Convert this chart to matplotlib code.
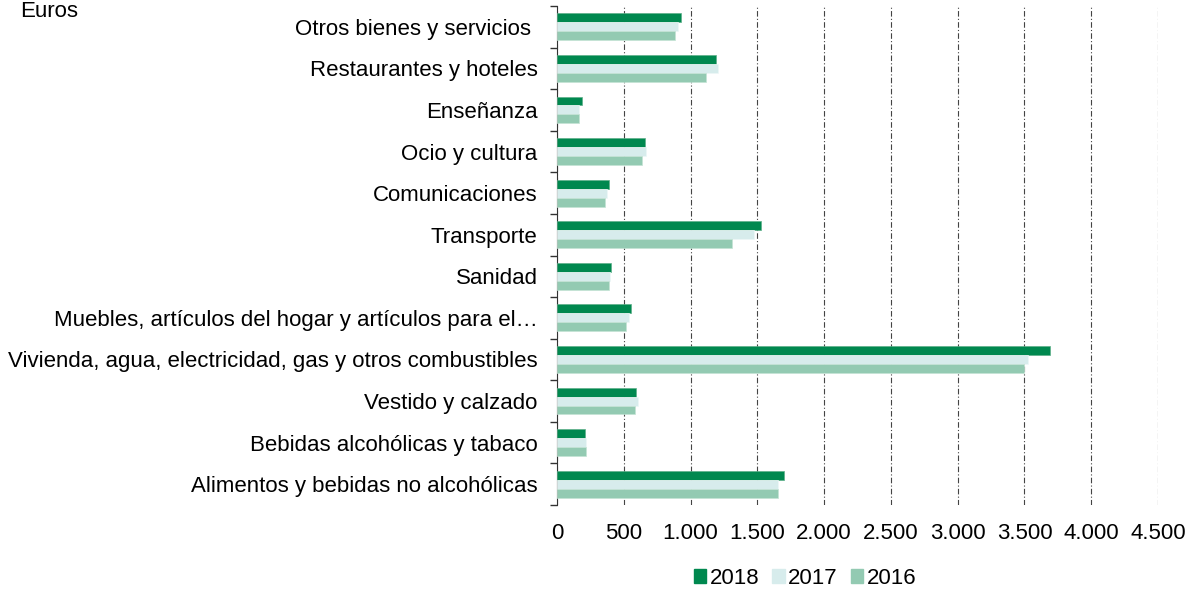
import numpy as np
import matplotlib.pyplot as plt
from matplotlib.patches import Patch

plt.rcParams['font.family'] = ['Liberation Sans', 'DejaVu Sans']

# categories, bottom to top
categorias = [
    'Alimentos y bebidas no alcohólicas',
    'Bebidas alcohólicas y tabaco',
    'Vestido y calzado',
    'Vivienda, agua, electricidad, gas y otros combustibles',
    'Muebles, artículos del hogar y artículos para el…',
    'Sanidad',
    'Transporte',
    'Comunicaciones',
    'Ocio y cultura',
    'Enseñanza',
    'Restaurantes y hoteles',
    'Otros bienes y servicios ',
]
v2018 = [1701, 210, 591, 3695, 553, 408, 1527, 390, 662, 186, 1187, 928]
v2017 = [1654, 216, 609, 3525, 538, 396, 1475, 374, 668, 167, 1206, 906]
v2016 = [1654, 216, 584, 3494, 516, 390, 1311, 356, 640, 161, 1116, 887]
xticks = [0, 500, 1000, 1500, 2000, 2500, 3000, 3500, 4000, 4500]
xlabels = ['0', '500', '1.000', '1.500', '2.000', '2.500', '3.000', '3.500', '4.000', '4.500']

c18, c17, c16 = '#00884f', '#d7ecec', '#93cab2'
fs = 16

fig = plt.figure(figsize=(11.89, 5.89), dpi=100)
ax = fig.add_axes([557 / 1189, 1 - 505 / 589, 601 / 1189, 499 / 589])

y = np.arange(len(categorias))
h = 0.215
ax.barh(y + h, v2018, height=h, color=c18, edgecolor='#5fb08a', linewidth=0.5, zorder=3)
ax.barh(y, v2017, height=h, color=c17, edgecolor='#eef7f7', linewidth=0.5, zorder=3)
ax.barh(y - h, v2016, height=h, color=c16, edgecolor='#c4e3d5', linewidth=0.5, zorder=3)

ax.set_xlim(0, 4500)
ax.set_ylim(-0.5, len(categorias) - 0.5)
ax.set_xticks(xticks)
ax.set_xticklabels(xlabels, fontsize=fs)
ax.tick_params(axis='x', length=0, pad=13)
ax.set_yticks(y)
ax.set_yticklabels(categorias, fontsize=fs)
ax.tick_params(axis='y', which='major', length=0, pad=14)
ax.set_yticks(np.arange(-0.5, len(categorias)), minor=True)
ax.tick_params(axis='y', which='minor', length=5, width=1, color='#333333')

ax.grid(axis='x', color='#444444', linestyle=(0, (5, 2, 1, 2)), linewidth=0.8, zorder=0)
for s in ['top', 'right', 'bottom']:
    ax.spines[s].set_visible(False)
ax.spines['left'].set_color('#333333')

fig.text(20 / 1189, 1 - 1 / 589, 'Euros', fontsize=fs, va='top')

handles = [Patch(color=c18), Patch(color=c17), Patch(color=c16)]
fig.legend(handles, ['2018', '2017', '2016'], loc='center', bbox_to_anchor=(0.677, 0.018),
           ncol=3, frameon=False, fontsize=fs, handlelength=0.55, handleheight=0.55,
           handletextpad=0.15, columnspacing=0.6)

fig.savefig('out.png', dpi=100)
